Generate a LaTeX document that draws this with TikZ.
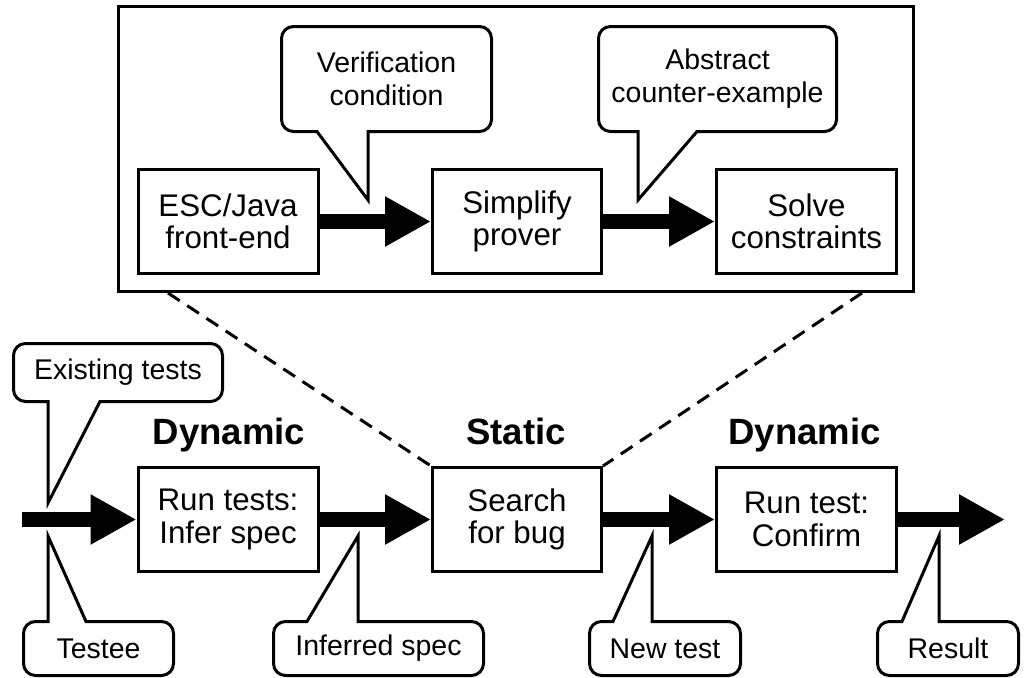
\documentclass[tikz,border=0pt]{standalone}
\usepackage{fontspec}
\setmainfont{Liberation Sans}
\usetikzlibrary{arrows.meta}

\begin{document}
\begin{tikzpicture}[line width=0.06cm,
  every node/.style={font=\fontsize{16.2}{18.7}\selectfont},
  stage/.style={draw, align=center, minimum width=3.6cm, minimum height=2.08cm, inner sep=0pt,
    font=\fontsize{17.8}{18.4}\selectfont},
  note/.style={align=center, inner sep=0pt, outer sep=0pt},
  phase/.style={anchor=base, font=\bfseries\fontsize{20.8}{24}\selectfont},
  flow/.style={line width=0.3cm, -{Triangle[length=0.92cm, width=0.94cm]}},
  zoomline/.style={dash pattern=on 0.28cm off 0.18cm},
  bubble/.style={rounded corners=0.24cm}]
\useasboundingbox (0,0) rectangle (20.48,-13.56);

% the static step, opened up
\node[draw, minimum width=15.9cm, minimum height=5.7cm] (detail) at (10.32,-2.98) {};
\node[stage] (esc) at (4.56,-4.43) {ESC/Java\\front-end};
\node[stage, minimum width=3.38cm] (prover) at (10.34,-4.43) {Simplify\\prover};
\node[stage] (solve) at (16.13,-4.43) {Solve\\constraints};
\draw[flow] (esc) -- (prover);
\draw[flow] (prover) -- (solve);

% the pipeline
\coordinate (in) at (0.44,-10.39);
\coordinate (out) at (20.1,-10.39);
\node[stage] (infer) at (4.56,-10.39) {Run tests:\\Infer spec};
\node[stage, minimum width=3.38cm] (search) at (10.34,-10.39) {Search\\for bug};
\node[stage] (confirm) at (16.13,-10.39) {Run test:\\Confirm};
\draw[flow] (in) -- (infer);
\draw[flow] (infer) -- (search);
\draw[flow] (search) -- (confirm);
\draw[flow] (confirm) -- (out);

\node[phase] (dyn1) at (4.58,-8.88) {Dynamic};
\node[phase] (stat) at (10.32,-8.88) {Static};
\node[phase] (dyn2) at (16.09,-8.88) {Dynamic};

\coordinate (zl) at (3.36,-5.86);
\coordinate (zr) at (17.24,-5.86);
\draw[zoomline] (zl) -- (search.north west);
\draw[zoomline] (zr) -- (search.north east);

% callouts pointing down
\foreach \n/\txt/\x/\y/\w/\h/\pa/\tx/\ty/\pb in {
    vcond/Verification\\condition/7.73/-1.58/4.2cm/2.1cm/6.34/7.36/-4.0/7.36,
    abs/Abstract\\counter-example/14.35/-1.58/4.76cm/2.1cm/12.76/12.76/-4.0/13.94,
    exist/Existing tests/2.36/-7.45/4.18cm/1.16cm/0.96/0.96/-10.06/2.0} {
  \node[note, minimum width=\w, minimum height=\h] (\n) at (\x,\y) {\txt};
  \coordinate (\n tip) at (\tx,\ty);
  \draw[bubble] (\n.east) -- (\n.north east) -- (\n.north west) -- (\n.south west)
    [sharp corners] -- (\pa,0 |- \n.south) -- (\n tip) -- (\pb,0 |- \n.south)
    [bubble] -- (\n.south east) -- cycle;
}

% callouts pointing up
\foreach \n/\txt/\x/\w/\pa/\tx/\pb in {
    testee/Testee/1.97/3.0cm/0.96/0.96/1.72,
    infspec/Inferred spec/7.57/4.2cm/6.14/7.16/7.16,
    newtest/New test/13.3/3.02cm/12.26/13.04/13.04,
    result/Result/18.96/2.82cm/18.04/18.78/18.78} {
  \node[note, minimum width=\w, minimum height=1.08cm] (\n) at (\x,-12.97) {\txt};
  \coordinate (\n tip) at (\tx,-10.72);
  \draw[bubble] (\n.east) -- (\n.south east) -- (\n.south west) -- (\n.north west)
    [sharp corners] -- (\pa,0 |- \n.north) -- (\n tip) -- (\pb,0 |- \n.north)
    [bubble] -- (\n.north east) -- cycle;
}
\end{tikzpicture}
\end{document}
